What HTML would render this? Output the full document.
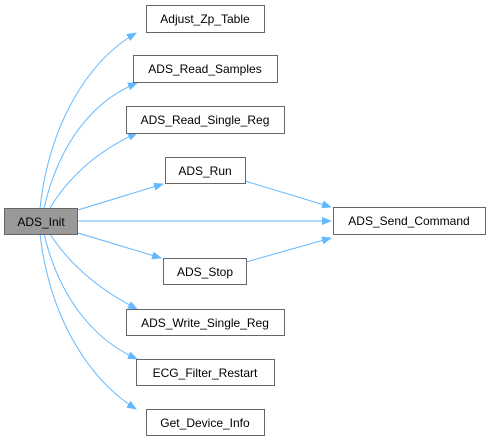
<!DOCTYPE html>
<html><head><style>body{margin:0;background:#fff}</style></head><body>
<svg width="490" height="443" xmlns="http://www.w3.org/2000/svg" font-family="Liberation Sans, Arial, sans-serif" font-size="12">
<defs><marker id="a" markerWidth="10" markerHeight="8" refX="9" refY="4" orient="auto" markerUnits="userSpaceOnUse"><path d="M0,0 L10,4 L0,8 z" fill="#63b8ff"/></marker></defs>
<g fill="none" stroke="#63b8ff" stroke-width="1">
<path d="M40,208 C50,120 90,60 136,33" marker-end="url(#a)"/>
<path d="M44,208 C60,140 95,100 137,83" marker-end="url(#a)"/>
<path d="M50,208 C70,175 100,150 137,133" marker-end="url(#a)"/>
<path d="M78,210 L163,184" marker-end="url(#a)"/>
<path d="M78,221 L331,221" marker-end="url(#a)"/>
<path d="M78,233 L161,258" marker-end="url(#a)"/>
<path d="M50,234 C70,265 100,290 137,309" marker-end="url(#a)"/>
<path d="M44,234 C60,300 95,340 137,359" marker-end="url(#a)"/>
<path d="M40,234 C50,320 90,380 136,409" marker-end="url(#a)"/>
<path d="M245,181 L331,207" marker-end="url(#a)"/>
<path d="M246,262 L331,238" marker-end="url(#a)"/>
</g>
<g stroke="#666" stroke-width="1">
<rect x="4.5" y="208.5" width="73" height="26" fill="#999"/>
<rect x="146.5" y="5.5" width="118" height="27" fill="#fff"/>
<rect x="133.5" y="55.5" width="144" height="27" fill="#fff"/>
<rect x="126.5" y="106.5" width="158" height="27" fill="#fff"/>
<rect x="165.5" y="157.5" width="80" height="26" fill="#fff"/>
<rect x="333.5" y="207.5" width="152" height="27" fill="#fff"/>
<rect x="163.5" y="258.5" width="83" height="26" fill="#fff"/>
<rect x="126.5" y="309.5" width="158" height="26" fill="#fff"/>
<rect x="136.5" y="359.5" width="138" height="26" fill="#fff"/>
<rect x="146.5" y="409.5" width="118" height="26" fill="#fff"/>
</g>
<g fill="#000" text-anchor="middle">
<text x="41" y="226">ADS_Init</text>
<text x="205" y="23">Adjust_Zp_Table</text>
<text x="205" y="73">ADS_Read_Samples</text>
<text x="205" y="124">ADS_Read_Single_Reg</text>
<text x="205" y="175">ADS_Run</text>
<text x="409" y="225">ADS_Send_Command</text>
<text x="205" y="276">ADS_Stop</text>
<text x="205" y="327">ADS_Write_Single_Reg</text>
<text x="205" y="377">ECG_Filter_Restart</text>
<text x="205" y="427">Get_Device_Info</text>
</g>
</svg>
</body></html>
